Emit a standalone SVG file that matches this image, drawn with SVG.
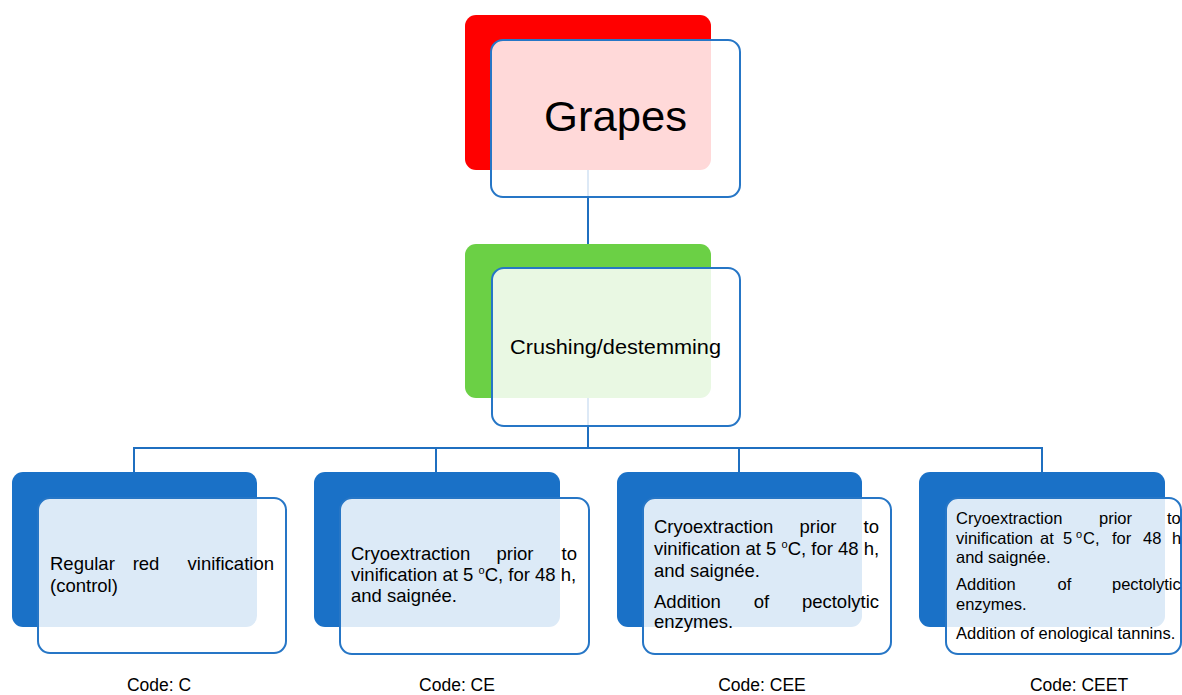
<svg xmlns="http://www.w3.org/2000/svg" width="1182" height="695" viewBox="0 0 1182 695">
<style>
.back-red{fill:#ff0000}
.back-green{fill:#6bd045}
.back-blue{fill:#1a71c7}
.front{fill:#ffffff;fill-opacity:0.85;stroke:#2676c6;stroke-width:2}
.conn{stroke:#1f6fc0;stroke-width:2;fill:none}
text{font-family:"Liberation Sans",Arial,sans-serif;fill:#000}
.t{font-size:18.5px}
.t4{font-size:16.5px}
.code{font-size:17.5px;text-anchor:middle}
.sup{font-size:11px}
</style>
<rect width="1182" height="695" fill="#ffffff"/>
<g id="connectors">
<line class="conn" x1="588" y1="170" x2="588" y2="244"/>
<line class="conn" x1="588" y1="398" x2="588" y2="448"/>
<polyline class="conn" points="134,472 134,448 1042,448 1042,472"/>
<line class="conn" x1="436" y1="448" x2="436" y2="472"/>
<line class="conn" x1="739" y1="448" x2="739" y2="472"/>
</g>
<g id="node-grapes">
<rect class="back-red" x="465" y="15" width="246" height="155" rx="11"/>
<rect class="front" x="491" y="40" width="249" height="157" rx="12"/>
<text x="544" y="131" font-size="42" textLength="143" lengthAdjust="spacingAndGlyphs">Grapes</text>
</g>
<g id="node-crushing">
<rect class="back-green" x="465" y="244" width="246" height="154" rx="11"/>
<rect class="front" x="492" y="268" width="248" height="158" rx="12"/>
<text x="510" y="354" font-size="20" textLength="211" lengthAdjust="spacingAndGlyphs">Crushing/destemming</text>
</g>
<g id="node-c">
<rect class="back-blue" x="12" y="472" width="245" height="155" rx="11"/>
<rect class="front" x="38" y="498" width="248" height="155" rx="12"/>
<text class="t" y="570"><tspan x="50">Regular</tspan><tspan x="146" text-anchor="middle">red</tspan><tspan x="274" text-anchor="end">vinification</tspan></text>
<text class="t" x="50" y="592">(control)</text>
<text class="code" x="159" y="691">Code: C</text>
</g>
<g id="node-ce">
<rect class="back-blue" x="314" y="472" width="246" height="155" rx="11"/>
<rect class="front" x="340" y="498" width="249" height="156" rx="12"/>
<text class="t" y="560"><tspan x="351">Cryoextraction</tspan><tspan x="515" text-anchor="middle">prior</tspan><tspan x="577" text-anchor="end">to</tspan></text>
<text class="t" x="351" y="581">vinification at 5 <tspan class="sup" dy="-7">o</tspan><tspan dy="7">C, for 48 h,</tspan></text>
<text class="t" x="351" y="602">and saignée.</text>
<text class="code" x="457" y="691">Code: CE</text>
</g>
<g id="node-cee">
<rect class="back-blue" x="617" y="472" width="245" height="155" rx="11"/>
<rect class="front" x="643" y="498" width="248" height="156" rx="12"/>
<text class="t" y="533"><tspan x="654">Cryoextraction</tspan><tspan x="818" text-anchor="middle">prior</tspan><tspan x="879" text-anchor="end">to</tspan></text>
<text class="t" x="654" y="554.5">vinification at 5 <tspan class="sup" dy="-7">o</tspan><tspan dy="7">C, for 48 h,</tspan></text>
<text class="t" x="654" y="576.5">and saignée.</text>
<text class="t" y="607.5"><tspan x="654">Addition</tspan><tspan x="761.5" text-anchor="middle">of</tspan><tspan x="879" text-anchor="end">pectolytic</tspan></text>
<text class="t" x="654" y="628">enzymes.</text>
<text class="code" x="762" y="691">Code: CEE</text>
</g>
<g id="node-ceet">
<rect class="back-blue" x="919" y="472" width="246" height="155" rx="11"/>
<rect class="front" x="946" y="498" width="235" height="156" rx="12"/>
<text class="t4" y="523.5"><tspan x="956">Cryoextraction</tspan><tspan x="1115.5" text-anchor="middle">prior</tspan><tspan x="1167">to</tspan></text>
<text class="t4" y="543.5"><tspan x="956">vinification</tspan><tspan x="1040">at</tspan><tspan x="1063">5</tspan><tspan x="1076" class="sup" dy="-6">o</tspan><tspan x="1083" dy="6">C,</tspan><tspan x="1112">for</tspan><tspan x="1143">48</tspan><tspan x="1172">h,</tspan></text>
<text class="t4" x="956" y="562.5">and saignée.</text>
<text class="t4" y="590"><tspan x="956">Addition</tspan><tspan x="1064.5" text-anchor="middle">of</tspan><tspan x="1112">pectolytic</tspan></text>
<text class="t4" x="956" y="610">enzymes.</text>
<text class="t4" x="956" y="638.5">Addition of enological tannins.</text>
<text class="code" x="1079" y="691">Code: CEET</text>
</g>
</svg>
